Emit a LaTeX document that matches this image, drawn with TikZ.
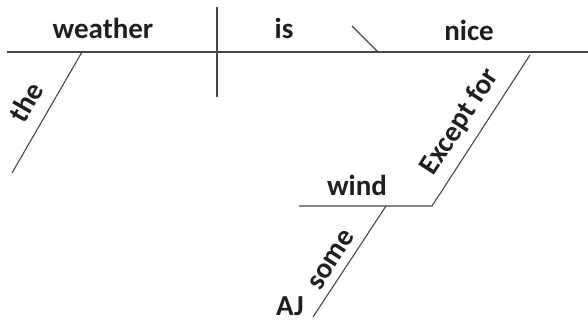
\documentclass[tikz,border=0pt]{standalone}
\usepackage{fontspec}
\setmainfont{Carlito}
\begin{document}
\begin{tikzpicture}[x=1pt,y=-1pt,
  rule/.style={draw=black!72, line width=1.1pt},
  word/.style={font=\bfseries\fontsize{29}{33}\selectfont, text=black!88, inner sep=0pt}]
\useasboundingbox (0,0) rectangle (588,321);
% base line and its parts
\coordinate (mainL) at (7,52);
\coordinate (mainR) at (588,52);
\coordinate (divT) at (217,7);
\coordinate (divB) at (217,97);
\coordinate (theT) at (82,52);
\coordinate (theB) at (12,173);
\coordinate (slashT) at (352,26);
\coordinate (slashB) at (378,52);
\coordinate (prepT) at (530,55);
\coordinate (prepB) at (432,206);
\coordinate (windL) at (299,206);
\coordinate (someT) at (386,206);
\coordinate (someB) at (313,317);
\draw[rule] (mainL) -- (mainR);
\draw[rule] (divT) -- (divB);
\draw[rule] (theT) -- (theB);
\draw[rule] (slashT) -- (slashB);
\draw[rule] (prepT) -- (prepB) -- (windL);
\draw[rule] (someT) -- (someB);
% words
\node[word, anchor=base] (weather) at (103,38) {weather};
\node[word, anchor=base] (is) at (284,38) {is};
\node[word, anchor=base] (nice) at (469,41) {nice};
\node[word, anchor=base] (wind) at (357,195) {wind};
\node[word, anchor=base] (aj) at (290,315) {AJ};
\node[word, rotate=60] (the) at (26,102) {the};
\node[word, rotate=57] (except) at (460,122) {Except for};
\node[word, rotate=57] (some) at (332,260) {some};
\end{tikzpicture}
\end{document}
